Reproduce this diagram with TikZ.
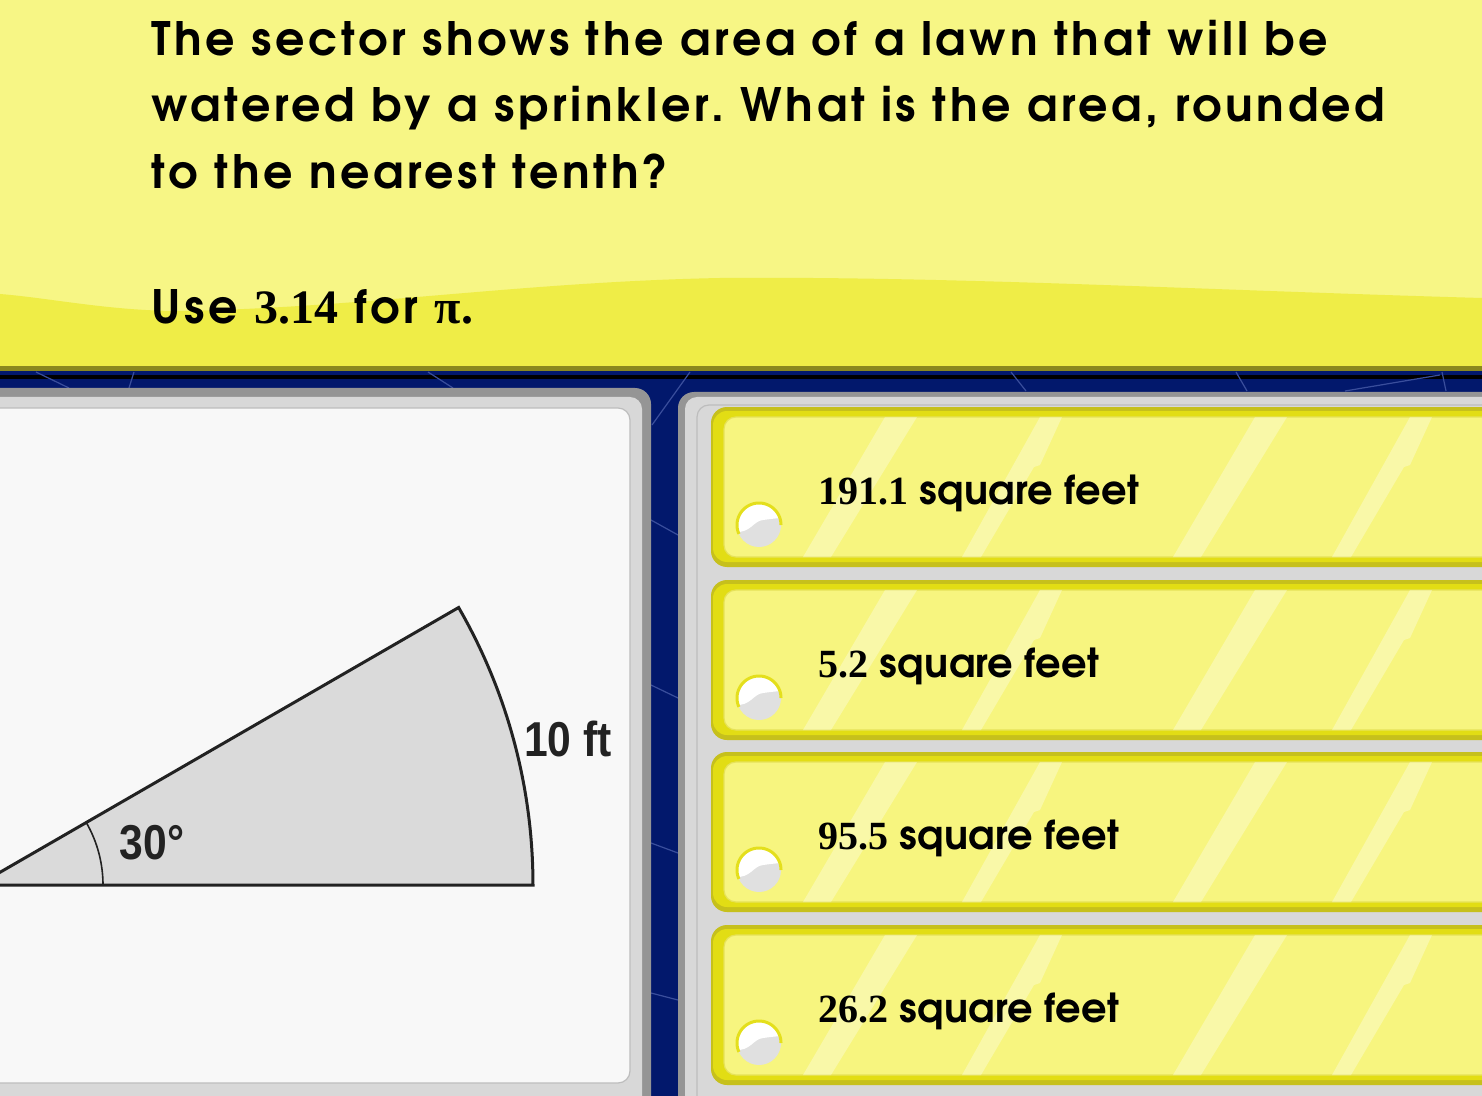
\documentclass[tikz,border=0pt]{standalone}
\usepackage{fontspec}
\newfontfamily\gothic{TeX Gyre Adventor}[LetterSpace=7.8]
\newfontfamily\gothicB{TeX Gyre Adventor}[LetterSpace=0.5]
\newfontfamily\tms{Liberation Serif}
\newfontfamily\cond{Liberation Sans}[FakeStretch=0.87]
\frenchspacing
\definecolor{ylight}{HTML}{F7F685}
\definecolor{ydark}{HTML}{EFED47}
\definecolor{olivebar}{HTML}{8A881E}
\definecolor{navy}{HTML}{02186C}
\definecolor{navyline}{HTML}{3A4E9C}
\definecolor{ybar}{HTML}{DEDA22}
\definecolor{gdark}{HTML}{959595}
\definecolor{glight}{HTML}{D8D8D8}
\definecolor{gline}{HTML}{BDBDBD}
\definecolor{paper}{HTML}{F8F8F8}
\definecolor{sectfill}{HTML}{DADADA}
\definecolor{ink}{HTML}{222222}
\definecolor{btnedge}{HTML}{C6C01C}
\definecolor{btnring}{HTML}{E2DD14}
\definecolor{btnin}{HTML}{F7F57F}
\definecolor{btnline}{HTML}{E6E258}
\definecolor{radgray}{HTML}{E0E0E0}
\definecolor{radring}{HTML}{E4DF1C}
\tikzset{
  title/.style={anchor=base west, inner sep=0pt, font=\gothic\bfseries\fontsize{23}{27}\selectfont},
  anstext/.style={anchor=base west, inner sep=0pt, font=\gothicB\bfseries\fontsize{20}{24}\selectfont},
  dimlbl/.style={inner sep=0pt, text=ink, font=\cond\bfseries\fontsize{24.5}{28}\selectfont},
  deco/.style={navyline, line width=0.6pt},
  stripe/.style={fill=white, fill opacity=0.32},
}
\newcommand{\answer}[3]{%
  % #1 top y, #2 name, #3 text
  \fill[btnedge, rounded corners=8pt] (711,#1) rectangle (1540,#1+160);
  \fill[btnring, rounded corners=7pt] (713,#1+4) rectangle (1540,#1+155);
  \filldraw[fill=btnin, draw=btnline, line width=0.6pt, rounded corners=6pt] (724,#1+10) rectangle (1540,#1+150);
  \begin{scope}
    \clip[rounded corners=6pt] (724,#1+10) rectangle (1540,#1+150);
    \fill[stripe] (803,#1+150) -- (831,#1+150) -- (917,#1+10) -- (885,#1+10) -- cycle;
    \fill[stripe] (962,#1+150) -- (981,#1+150) -- (1034,#1+60) -- (1040,#1+58) -- (1062,#1+10) -- (1040,#1+10) -- cycle;
    \fill[stripe] (1173,#1+150) -- (1201,#1+150) -- (1287,#1+10) -- (1255,#1+10) -- cycle;
    \fill[stripe] (1332,#1+150) -- (1351,#1+150) -- (1404,#1+60) -- (1410,#1+58) -- (1432,#1+10) -- (1410,#1+10) -- cycle;
  \end{scope}
  \fill[radgray] (759,#1+118) circle (11pt);
  \begin{scope}
    \clip (759,#1+118) circle (11pt);
    \fill[white] (735,#1+125) .. controls (751,#1+126) and (753,#1+114) .. (763,#1+113)
      .. controls (771,#1+112) and (777,#1+111) .. (785,#1+111) -- (785,#1+90) -- (735,#1+90) -- cycle;
  \end{scope}
  \draw[radring, line width=1.5pt] plot[domain=0:204, samples=40] ({759+22*cos(\x)},{#1+118-22*sin(\x)});
  \node[anstext] (#2) at (818,#1+97) {#3};
}
\begin{document}
\begin{tikzpicture}[x=0.5pt, y=-0.5pt]
\useasboundingbox (0,0) rectangle (1482,1096);
\begin{scope}
\clip (0,0) rectangle (1482,1096);
% background
\fill[navy] (0,360) rectangle (1482,1096);
\fill[ylight] (0,0) rectangle (1482,368);
\fill[ydark] (0,294) .. controls (50,298) and (110,311) .. (180,311)
  .. controls (360,308) and (520,282) .. (720,278)
  .. controls (950,276) and (1200,290) .. (1482,298) -- (1482,368) -- (0,368) -- cycle;
\fill[olivebar] (0,366.5) rectangle (1482,371.5);
\fill[navy] (0,371.5) rectangle (1482,375);
\fill[ybar] (0,375) rectangle (1482,379.5);
% decorative lines in navy
\draw[deco] (36,372) -- (69,388);
\draw[deco] (134,372) -- (129,388);
\draw[deco] (428,372) -- (453,388);
\draw[deco] (690,372) -- (652,425);
\draw[deco] (1011,372) -- (1026,391);
\draw[deco] (1236,372) -- (1247,391);
\draw[deco] (1345,391) -- (1440,375);
\draw[deco] (1442,372) -- (1446,391);
\draw[deco] (651,520) -- (678,535);
\draw[deco] (651,685) -- (678,698);
\draw[deco] (651,843) -- (678,853);
\draw[deco] (651,993) -- (678,1000);
% left panel
\fill[gdark, rounded corners=8pt] (-30,388) rectangle (651,1140);
\fill[glight, rounded corners=6pt] (-30,397) rectangle (642,1130);
\filldraw[fill=paper, draw=gline, line width=0.6pt, rounded corners=6pt] (-30,408) rectangle (630,1083);
% right panel
\fill[gdark, rounded corners=8pt] (678,392) rectangle (1540,1140);
\fill[glight, rounded corners=6pt] (685,397) rectangle (1540,1140);
\draw[gline, line width=0.6pt, rounded corners=6pt] (697,1140) -- (697,405) -- (1540,405);
% sector
\coordinate (O) at (-22,885);
\coordinate (B) at (533,885);
\fill[sectfill] (O) -- plot[domain=0:30, samples=60] ({-22+555*cos(\x)},{885-555*sin(\x)}) -- cycle;
\draw[ink, line width=0.8pt] plot[domain=0:30, samples=30] ({-22+125*cos(\x)},{885-125*sin(\x)});
\draw[ink, line width=1.5pt, line join=miter] (O) -- (B) -- plot[domain=0:30, samples=60] ({-22+555*cos(\x)},{885-555*sin(\x)}) -- cycle;
\node[dimlbl] (ang) at (152,843) {30°};
\node[dimlbl] (rad) at (568,739) {10 ft};
% answers
\answer{407}{a1}{{\tms\bfseries\fontsize{20}{24}\selectfont 191.1} square feet}
\answer{580}{a2}{{\tms\bfseries\fontsize{20}{24}\selectfont 5.2} square feet}
\answer{752}{a3}{{\tms\bfseries\fontsize{20}{24}\selectfont 95.5} square feet}
\answer{925}{a4}{{\tms\bfseries\fontsize{20}{24}\selectfont 26.2} square feet}
% question text
\node[title] (q1) at (151,56) {The sector shows the area of a lawn that will be};
\node[title] (q2) at (151,122) {watered by a sprinkler. What is the area, rounded};
\node[title] (q3) at (151,189) {to the nearest tenth?};
\node[title] (q4) at (151,324) {Use {\tms\bfseries\fontsize{24}{28}\selectfont 3.14} for {\tms\bfseries\fontsize{24}{28}\selectfont π.}};
\end{scope}
\end{tikzpicture}
\end{document}
